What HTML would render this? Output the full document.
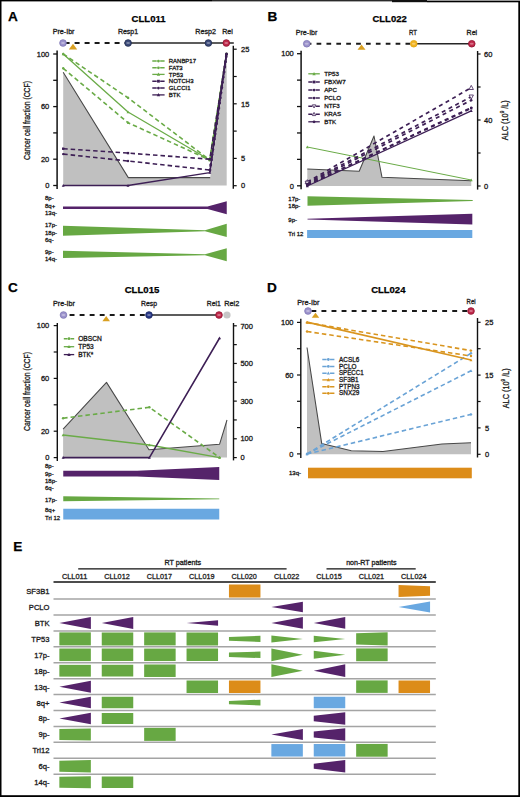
<!DOCTYPE html>
<html><head><meta charset="utf-8"><style>
html,body{margin:0;padding:0;background:#fff;}
body{width:520px;height:797px;overflow:hidden;position:relative;}
svg{position:absolute;left:0;top:0;}
text{font-family:"Liberation Sans",sans-serif;}
</style></head><body>
<svg width="520" height="797" viewBox="0 0 520 797" font-family="Liberation Sans, sans-serif">
<rect x="0" y="0" width="520" height="797" fill="#fff"/>
<text x="8" y="20.6" font-size="13.6" text-anchor="start" font-weight="bold" fill="#000" stroke="#000" stroke-width="0.25" >A</text>
<text x="148.6" y="22" font-size="9.4" text-anchor="middle" font-weight="bold" textLength="34" lengthAdjust="spacingAndGlyphs" fill="#000" stroke="#000" stroke-width="0.25" >CLL011</text>
<text x="63.6" y="34.1" font-size="7.1" text-anchor="middle" textLength="21.8" lengthAdjust="spacingAndGlyphs" fill="#1a1a1a" stroke="#1a1a1a" stroke-width="0.3" >Pre-Ibr</text>
<text x="128" y="34.1" font-size="7.1" text-anchor="middle" textLength="20.2" lengthAdjust="spacingAndGlyphs" fill="#1a1a1a" stroke="#1a1a1a" stroke-width="0.3" >Resp1</text>
<text x="205.6" y="34.1" font-size="7.1" text-anchor="middle" textLength="20.7" lengthAdjust="spacingAndGlyphs" fill="#1a1a1a" stroke="#1a1a1a" stroke-width="0.3" >Resp2</text>
<text x="227.5" y="34.1" font-size="7.1" text-anchor="middle" textLength="10.6" lengthAdjust="spacingAndGlyphs" fill="#1a1a1a" stroke="#1a1a1a" stroke-width="0.3" >Rel</text>
<line x1="64.6" y1="43" x2="125" y2="43" stroke="#1a1a1a" stroke-width="1.8" stroke-dasharray="5 5" />
<line x1="128" y1="43" x2="233.8" y2="43" stroke="#262626" stroke-width="1.4" />
<circle cx="63" cy="43" r="3.35" fill="#9c93cc" stroke="#7f77b5" stroke-width="0.8"/>
<ellipse cx="63" cy="43" rx="1.9" ry="1.1" fill="#fff" opacity="0.35"/>
<circle cx="128.1" cy="43" r="3.35" fill="#3b4a7a" stroke="#1f2b4d" stroke-width="0.8"/>
<ellipse cx="128.1" cy="43" rx="1.9" ry="1.1" fill="#fff" opacity="0.35"/>
<circle cx="208.4" cy="43" r="3.35" fill="#3b4a7a" stroke="#1f2b4d" stroke-width="0.8"/>
<ellipse cx="208.4" cy="43" rx="1.9" ry="1.1" fill="#fff" opacity="0.35"/>
<circle cx="226.3" cy="43" r="3.35" fill="#c0284a" stroke="#8e1430" stroke-width="0.8"/>
<ellipse cx="226.3" cy="43" rx="1.9" ry="1.1" fill="#fff" opacity="0.35"/>
<polygon points="73,43.7 68.8,49.5 77.2,49.5" fill="#d9a021" stroke="none" stroke-width="1" stroke-linejoin="round" />
<line x1="57.1" y1="50.5" x2="57.1" y2="189" stroke="#111" stroke-width="1.5" />
<line x1="53.2" y1="54.0" x2="57.1" y2="54.0" stroke="#111" stroke-width="1.3" />
<line x1="53.2" y1="80.30000000000001" x2="57.1" y2="80.30000000000001" stroke="#111" stroke-width="1.3" />
<line x1="53.2" y1="106.60000000000001" x2="57.1" y2="106.60000000000001" stroke="#111" stroke-width="1.3" />
<line x1="53.2" y1="132.9" x2="57.1" y2="132.9" stroke="#111" stroke-width="1.3" />
<line x1="53.2" y1="159.2" x2="57.1" y2="159.2" stroke="#111" stroke-width="1.3" />
<line x1="53.2" y1="185.5" x2="57.1" y2="185.5" stroke="#111" stroke-width="1.3" />
<text x="49.3" y="56.7" font-size="7.5" text-anchor="end" fill="#1a1a1a" stroke="#1a1a1a" stroke-width="0.3" >100</text>
<text x="49.3" y="109.30000000000001" font-size="7.5" text-anchor="end" fill="#1a1a1a" stroke="#1a1a1a" stroke-width="0.3" >60</text>
<text x="49.3" y="161.89999999999998" font-size="7.5" text-anchor="end" fill="#1a1a1a" stroke="#1a1a1a" stroke-width="0.3" >20</text>
<text x="49.3" y="188.2" font-size="7.5" text-anchor="end" fill="#1a1a1a" stroke="#1a1a1a" stroke-width="0.3" >0</text>
<text x="0" y="0" font-size="8.8" text-anchor="middle" fill="#1a1a1a" stroke="#1a1a1a" stroke-width="0.3" textLength="79" lengthAdjust="spacingAndGlyphs" transform="translate(27.0,120.5) rotate(-90)" dominant-baseline="central">Cancer cell fraction (CCF)</text>
<line x1="233.3" y1="45.8" x2="233.3" y2="188.8" stroke="#111" stroke-width="1.4" />
<line x1="233.3" y1="49.2" x2="236.7" y2="49.2" stroke="#111" stroke-width="1.2" />
<line x1="233.3" y1="76.5" x2="236.7" y2="76.5" stroke="#111" stroke-width="1.2" />
<line x1="233.3" y1="103.80000000000001" x2="236.7" y2="103.80000000000001" stroke="#111" stroke-width="1.2" />
<line x1="233.3" y1="131.10000000000002" x2="236.7" y2="131.10000000000002" stroke="#111" stroke-width="1.2" />
<line x1="233.3" y1="158.4" x2="236.7" y2="158.4" stroke="#111" stroke-width="1.2" />
<line x1="233.3" y1="185.7" x2="236.7" y2="185.7" stroke="#111" stroke-width="1.2" />
<text x="241" y="51.900000000000006" font-size="7.5" text-anchor="start" fill="#1a1a1a" stroke="#1a1a1a" stroke-width="0.3" >25</text>
<text x="241" y="106.5" font-size="7.5" text-anchor="start" fill="#1a1a1a" stroke="#1a1a1a" stroke-width="0.3" >15</text>
<text x="241" y="161.1" font-size="7.5" text-anchor="start" fill="#1a1a1a" stroke="#1a1a1a" stroke-width="0.3" >5</text>
<text x="241" y="188.39999999999998" font-size="7.5" text-anchor="start" fill="#1a1a1a" stroke="#1a1a1a" stroke-width="0.3" >0</text>
<polygon points="63.2,185.5 63.2,72.3 128.3,177.6 210.2,177.6 226.7,58 226.7,185.5" fill="#c0c0c0" stroke="none" stroke-width="1" stroke-linejoin="round" />
<polyline points="63.2,72.3 128.3,177.6 210.2,177.6" fill="none" stroke="#484848" stroke-width="1.05" stroke-linejoin="round" />
<polyline points="63.2,54.0 128,97.8 209.8,160 226.5,54" fill="none" stroke="#6aab47" stroke-width="1.6" stroke-dasharray="4.5 3" stroke-linejoin="round" />
<circle cx="63.2" cy="54.0" r="1.2" fill="#6aab47" stroke="none" stroke-width="0.6"/>
<circle cx="128" cy="97.8" r="1.2" fill="#6aab47" stroke="none" stroke-width="0.6"/>
<circle cx="209.8" cy="160" r="1.2" fill="#6aab47" stroke="none" stroke-width="0.6"/>
<circle cx="226.5" cy="54" r="1.2" fill="#6aab47" stroke="none" stroke-width="0.6"/>
<polyline points="63.2,68.3 128,122.7 209.8,160 226.5,54" fill="none" stroke="#6aab47" stroke-width="1.6" stroke-dasharray="4.5 3" stroke-linejoin="round" />
<circle cx="63.2" cy="68.3" r="1.2" fill="#6aab47" stroke="none" stroke-width="0.6"/>
<circle cx="128" cy="122.7" r="1.2" fill="#6aab47" stroke="none" stroke-width="0.6"/>
<circle cx="209.8" cy="160" r="1.2" fill="#6aab47" stroke="none" stroke-width="0.6"/>
<circle cx="226.5" cy="54" r="1.2" fill="#6aab47" stroke="none" stroke-width="0.6"/>
<polyline points="63.2,54.0 128,112 209.8,160 226.5,54" fill="none" stroke="#6aab47" stroke-width="1.3" stroke-linejoin="round" />
<polygon points="63.2,52.44 61.760000000000005,55.2 64.64,55.2" fill="#6aab47" stroke="none" stroke-width="1" stroke-linejoin="round" />
<polygon points="128,110.44 126.56,113.2 129.44,113.2" fill="#6aab47" stroke="none" stroke-width="1" stroke-linejoin="round" />
<polygon points="209.8,158.44 208.36,161.2 211.24,161.2" fill="#6aab47" stroke="none" stroke-width="1" stroke-linejoin="round" />
<polygon points="226.5,52.44 225.06,55.2 227.94,55.2" fill="#6aab47" stroke="none" stroke-width="1" stroke-linejoin="round" />
<polyline points="63.2,148.7 128,153.1 209.8,159.2 226.5,54" fill="none" stroke="#3d1f55" stroke-width="1.6" stroke-dasharray="4.5 3" stroke-linejoin="round" />
<rect x="62.0" y="147.5" width="2.4" height="2.4" fill="#3d1f55"/>
<rect x="126.8" y="151.9" width="2.4" height="2.4" fill="#3d1f55"/>
<rect x="208.60000000000002" y="158.0" width="2.4" height="2.4" fill="#3d1f55"/>
<rect x="225.3" y="52.8" width="2.4" height="2.4" fill="#3d1f55"/>
<polyline points="63.2,154.1 128,161 209.8,170 226.5,54" fill="none" stroke="#3d1f55" stroke-width="1.6" stroke-dasharray="4.5 3" stroke-linejoin="round" />
<circle cx="63.2" cy="154.1" r="1.2" fill="#3d1f55" stroke="none" stroke-width="0.6"/>
<circle cx="128" cy="161" r="1.2" fill="#3d1f55" stroke="none" stroke-width="0.6"/>
<circle cx="209.8" cy="170" r="1.2" fill="#3d1f55" stroke="none" stroke-width="0.6"/>
<circle cx="226.5" cy="54" r="1.2" fill="#3d1f55" stroke="none" stroke-width="0.6"/>
<polyline points="63.2,185.5 128,185.5 209.8,172.6 226.5,54" fill="none" stroke="#3d1f55" stroke-width="1.3" stroke-linejoin="round" />
<polygon points="63.2,183.94 61.760000000000005,186.7 64.64,186.7" fill="#3d1f55" stroke="none" stroke-width="1" stroke-linejoin="round" />
<polygon points="128,183.94 126.56,186.7 129.44,186.7" fill="#3d1f55" stroke="none" stroke-width="1" stroke-linejoin="round" />
<polygon points="209.8,171.04 208.36,173.79999999999998 211.24,173.79999999999998" fill="#3d1f55" stroke="none" stroke-width="1" stroke-linejoin="round" />
<polygon points="226.5,52.44 225.06,55.2 227.94,55.2" fill="#3d1f55" stroke="none" stroke-width="1" stroke-linejoin="round" />
<line x1="210" y1="170" x2="226.5" y2="55" stroke="#3d1f55" stroke-width="2.8" stroke-dasharray="0.01 5.2" stroke-linecap="round"/>
<line x1="210" y1="172" x2="226.5" y2="54" stroke="#3d1f55" stroke-width="1.4" />
<line x1="152.3" y1="61.1" x2="164.6" y2="61.1" stroke="#6aab47" stroke-width="1.5" stroke-dasharray="4.43 3.44" />
<circle cx="158.45" cy="61.1" r="1.4" fill="#6aab47" stroke="none" stroke-width="0.6"/>
<text x="168.8" y="63.2" font-size="6" text-anchor="start" textLength="27.2" lengthAdjust="spacingAndGlyphs" fill="#1a1a1a" stroke="#1a1a1a" stroke-width="0.3" >RANBP17</text>
<line x1="152.3" y1="67.8" x2="164.6" y2="67.8" stroke="#6aab47" stroke-width="1.5" stroke-dasharray="4.43 3.44" />
<circle cx="158.45" cy="67.8" r="1.4" fill="#6aab47" stroke="none" stroke-width="0.6"/>
<text x="168.8" y="69.89999999999999" font-size="6" text-anchor="start" fill="#1a1a1a" stroke="#1a1a1a" stroke-width="0.3" >FAT3</text>
<line x1="152.3" y1="74.4" x2="164.6" y2="74.4" stroke="#6aab47" stroke-width="1.3" />
<polygon points="158.45,72.58000000000001 156.76999999999998,75.80000000000001 160.13,75.80000000000001" fill="#6aab47" stroke="none" stroke-width="1" stroke-linejoin="round" />
<text x="168.8" y="76.5" font-size="6" text-anchor="start" fill="#1a1a1a" stroke="#1a1a1a" stroke-width="0.3" >TP53</text>
<line x1="152.3" y1="81.2" x2="164.6" y2="81.2" stroke="#3d1f55" stroke-width="1.5" stroke-dasharray="4.43 3.44" />
<rect x="157.04999999999998" y="79.8" width="2.8" height="2.8" fill="#3d1f55"/>
<text x="168.8" y="83.3" font-size="6" text-anchor="start" fill="#1a1a1a" stroke="#1a1a1a" stroke-width="0.3" >NOTCH3</text>
<line x1="152.3" y1="88.1" x2="164.6" y2="88.1" stroke="#3d1f55" stroke-width="1.5" stroke-dasharray="4.43 3.44" />
<circle cx="158.45" cy="88.1" r="1.4" fill="#3d1f55" stroke="none" stroke-width="0.6"/>
<text x="168.8" y="90.19999999999999" font-size="6" text-anchor="start" fill="#1a1a1a" stroke="#1a1a1a" stroke-width="0.3" >GLCCI1</text>
<line x1="152.3" y1="94.9" x2="164.6" y2="94.9" stroke="#3d1f55" stroke-width="1.3" />
<polygon points="158.45,93.08000000000001 156.76999999999998,96.30000000000001 160.13,96.30000000000001" fill="#3d1f55" stroke="none" stroke-width="1" stroke-linejoin="round" />
<text x="168.8" y="97.0" font-size="6" text-anchor="start" fill="#1a1a1a" stroke="#1a1a1a" stroke-width="0.3" >BTK</text>
<text x="45" y="200.1" font-size="6" text-anchor="start" fill="#1a1a1a" stroke="#1a1a1a" stroke-width="0.3" >8p-</text>
<text x="45" y="207.6" font-size="6" text-anchor="start" fill="#1a1a1a" stroke="#1a1a1a" stroke-width="0.3" >8q+</text>
<text x="45" y="215.1" font-size="6" text-anchor="start" fill="#1a1a1a" stroke="#1a1a1a" stroke-width="0.3" >13q-</text>
<text x="45" y="227.1" font-size="6" text-anchor="start" fill="#1a1a1a" stroke="#1a1a1a" stroke-width="0.3" >17p-</text>
<text x="45" y="234.6" font-size="6" text-anchor="start" fill="#1a1a1a" stroke="#1a1a1a" stroke-width="0.3" >18p-</text>
<text x="45" y="242.1" font-size="6" text-anchor="start" fill="#1a1a1a" stroke="#1a1a1a" stroke-width="0.3" >6q-</text>
<text x="45" y="253.9" font-size="6" text-anchor="start" fill="#1a1a1a" stroke="#1a1a1a" stroke-width="0.3" >9p-</text>
<text x="45" y="260.90000000000003" font-size="6" text-anchor="start" fill="#1a1a1a" stroke="#1a1a1a" stroke-width="0.3" >14q-</text>
<polygon points="63,206.6 207.5,206.6 226.75,201.3 226.75,214.3 207.5,209.0 63,209.0" fill="#55236a" stroke="none" stroke-width="1" stroke-linejoin="round" />
<polygon points="63,225.8 205,230.3 226.75,223.75 226.75,237 205,231.3 63,235.8" fill="#67a843" stroke="none" stroke-width="1" stroke-linejoin="round" />
<polygon points="63,250.8 205,254.3 226.75,248.25 226.75,261.25 205,255.3 63,258" fill="#67a843" stroke="none" stroke-width="1" stroke-linejoin="round" />
<text x="267.4" y="21.4" font-size="13.6" text-anchor="start" font-weight="bold" fill="#000" stroke="#000" stroke-width="0.25" >B</text>
<text x="389.6" y="22.3" font-size="9.4" text-anchor="middle" font-weight="bold" textLength="34.2" lengthAdjust="spacingAndGlyphs" fill="#000" stroke="#000" stroke-width="0.25" >CLL022</text>
<text x="306.6" y="35.2" font-size="7.1" text-anchor="middle" textLength="21.6" lengthAdjust="spacingAndGlyphs" fill="#1a1a1a" stroke="#1a1a1a" stroke-width="0.3" >Pre-Ibr</text>
<text x="413" y="35.2" font-size="7.1" text-anchor="middle" textLength="8" lengthAdjust="spacingAndGlyphs" fill="#1a1a1a" stroke="#1a1a1a" stroke-width="0.3" >RT</text>
<text x="471.9" y="35.2" font-size="7.1" text-anchor="middle" textLength="10.6" lengthAdjust="spacingAndGlyphs" fill="#1a1a1a" stroke="#1a1a1a" stroke-width="0.3" >Rel</text>
<line x1="306.7" y1="43.75" x2="411" y2="43.75" stroke="#1a1a1a" stroke-width="1.8" stroke-dasharray="4.7 5.18" />
<line x1="413.75" y1="43.75" x2="471.75" y2="43.75" stroke="#262626" stroke-width="1.4" />
<circle cx="306.75" cy="43.75" r="3.35" fill="#9c93cc" stroke="#7f77b5" stroke-width="0.8"/>
<ellipse cx="306.75" cy="43.75" rx="1.9" ry="1.1" fill="#fff" opacity="0.35"/>
<circle cx="413.75" cy="43.75" r="3.35" fill="#f1b320" stroke="#e2a816" stroke-width="0.8"/>
<ellipse cx="413.75" cy="43.75" rx="1.9" ry="1.1" fill="#fff" opacity="0.35"/>
<circle cx="471.75" cy="43.75" r="3.35" fill="#c0284a" stroke="#8e1430" stroke-width="0.8"/>
<ellipse cx="471.75" cy="43.75" rx="1.9" ry="1.1" fill="#fff" opacity="0.35"/>
<polygon points="361.5,44.5 357.5,49.7 365.5,49.7" fill="#d9a021" stroke="none" stroke-width="1" stroke-linejoin="round" />
<line x1="301.1" y1="50.8" x2="301.1" y2="189.2" stroke="#111" stroke-width="1.5" />
<line x1="297" y1="53.70000000000002" x2="301.1" y2="53.70000000000002" stroke="#111" stroke-width="1.3" />
<line x1="297" y1="80.12000000000002" x2="301.1" y2="80.12000000000002" stroke="#111" stroke-width="1.3" />
<line x1="297" y1="106.54000000000002" x2="301.1" y2="106.54000000000002" stroke="#111" stroke-width="1.3" />
<line x1="297" y1="132.96" x2="301.1" y2="132.96" stroke="#111" stroke-width="1.3" />
<line x1="297" y1="159.38000000000002" x2="301.1" y2="159.38000000000002" stroke="#111" stroke-width="1.3" />
<line x1="297" y1="185.8" x2="301.1" y2="185.8" stroke="#111" stroke-width="1.3" />
<text x="293.8" y="56.40000000000002" font-size="7.5" text-anchor="end" fill="#1a1a1a" stroke="#1a1a1a" stroke-width="0.3" >100</text>
<text x="293.8" y="188.5" font-size="7.5" text-anchor="end" fill="#1a1a1a" stroke="#1a1a1a" stroke-width="0.3" >0</text>
<line x1="477.6" y1="51" x2="477.6" y2="189.6" stroke="#111" stroke-width="1.4" />
<line x1="477.6" y1="54" x2="480.6" y2="54" stroke="#111" stroke-width="1.2" />
<line x1="477.6" y1="87" x2="480.6" y2="87" stroke="#111" stroke-width="1.2" />
<line x1="477.6" y1="120" x2="480.6" y2="120" stroke="#111" stroke-width="1.2" />
<line x1="477.6" y1="153" x2="480.6" y2="153" stroke="#111" stroke-width="1.2" />
<line x1="477.6" y1="186" x2="480.6" y2="186" stroke="#111" stroke-width="1.2" />
<text x="484" y="56.7" font-size="7.5" text-anchor="start" fill="#1a1a1a" stroke="#1a1a1a" stroke-width="0.3" >60</text>
<text x="484" y="122.60000000000001" font-size="7.5" text-anchor="start" fill="#1a1a1a" stroke="#1a1a1a" stroke-width="0.3" >40</text>
<text x="484" y="188.7" font-size="7.5" text-anchor="start" fill="#1a1a1a" stroke="#1a1a1a" stroke-width="0.3" >0</text>
<text x="0" y="0" font-size="8.8" text-anchor="middle" fill="#1a1a1a" stroke="#1a1a1a" stroke-width="0.3" textLength="40" lengthAdjust="spacingAndGlyphs" transform="translate(505.2,120.2) rotate(-90)" dominant-baseline="central">ALC (10<tspan font-size="5.5" dy="-3">9</tspan><tspan dy="3"> /L)</tspan></text>
<polygon points="307.3,186 307.3,169 359.2,171.2 374,136 382,177.3 471.25,180.75 471.25,186" fill="#c0c0c0" stroke="none" stroke-width="1" stroke-linejoin="round" />
<polyline points="307.3,169 359.2,171.2 374,136 382,177.3 471.25,180.75" fill="none" stroke="#484848" stroke-width="1.05" stroke-linejoin="round" />
<polyline points="307.3,147 471.25,180" fill="none" stroke="#6aab47" stroke-width="1.0" stroke-linejoin="round" />
<polygon points="307.3,145.44 305.86,148.2 308.74,148.2" fill="#6aab47" stroke="none" stroke-width="1" stroke-linejoin="round" />
<polygon points="471.25,178.44 469.81,181.2 472.69,181.2" fill="#6aab47" stroke="none" stroke-width="1" stroke-linejoin="round" />
<polyline points="307.3,182 471.25,87.7" fill="none" stroke="#3d1f55" stroke-width="1.7" stroke-dasharray="4 3.6" stroke-linejoin="round" />
<polygon points="307.3,179.66 305.14,183.8 309.46000000000004,183.8" fill="#fff" stroke="#3d1f55" stroke-width="0.8" stroke-linejoin="round" />
<polygon points="471.25,85.36 469.09,89.5 473.41,89.5" fill="#fff" stroke="#3d1f55" stroke-width="0.8" stroke-linejoin="round" />
<polyline points="307.3,183 471.25,96.8" fill="none" stroke="#3d1f55" stroke-width="1.7" stroke-dasharray="4 3.6" stroke-linejoin="round" />
<polygon points="307.3,185.34 305.14,181.2 309.46000000000004,181.2" fill="#fff" stroke="#3d1f55" stroke-width="0.8" stroke-linejoin="round" />
<polygon points="471.25,99.14 469.09,95.0 473.41,95.0" fill="#fff" stroke="#3d1f55" stroke-width="0.8" stroke-linejoin="round" />
<polyline points="307.3,184 471.25,100.2" fill="none" stroke="#3d1f55" stroke-width="1.7" stroke-dasharray="4 3.6" stroke-linejoin="round" />
<circle cx="307.3" cy="184" r="1.2" fill="#3d1f55" stroke="none" stroke-width="0.6"/>
<circle cx="471.25" cy="100.2" r="1.2" fill="#3d1f55" stroke="none" stroke-width="0.6"/>
<polyline points="307.3,185 471.25,107.6" fill="none" stroke="#3d1f55" stroke-width="1.7" stroke-dasharray="4 3.6" stroke-linejoin="round" />
<circle cx="307.3" cy="185" r="1.2" fill="#3d1f55" stroke="none" stroke-width="0.6"/>
<circle cx="471.25" cy="107.6" r="1.2" fill="#3d1f55" stroke="none" stroke-width="0.6"/>
<polyline points="307.3,185.3 471.25,108.2" fill="none" stroke="#3d1f55" stroke-width="1.7" stroke-dasharray="4 3.6" stroke-linejoin="round" />
<rect x="306.1" y="184.10000000000002" width="2.4" height="2.4" fill="#3d1f55"/>
<rect x="470.05" y="107.0" width="2.4" height="2.4" fill="#3d1f55"/>
<polyline points="307.3,186 471.25,110.8" fill="none" stroke="#3d1f55" stroke-width="1.3" stroke-linejoin="round" />
<polygon points="307.3,184.44 305.86,187.2 308.74,187.2" fill="#3d1f55" stroke="none" stroke-width="1" stroke-linejoin="round" />
<polygon points="471.25,109.24 469.81,112.0 472.69,112.0" fill="#3d1f55" stroke="none" stroke-width="1" stroke-linejoin="round" />
<line x1="308.3" y1="73.8" x2="319.8" y2="73.8" stroke="#6aab47" stroke-width="1.3" />
<polygon points="314.05,71.98 312.37,75.2 315.73,75.2" fill="#6aab47" stroke="none" stroke-width="1" stroke-linejoin="round" />
<text x="324.2" y="75.89999999999999" font-size="6.2" text-anchor="start" fill="#1a1a1a" stroke="#1a1a1a" stroke-width="0.3" >TP53</text>
<line x1="308.3" y1="82" x2="319.8" y2="82" stroke="#3d1f55" stroke-width="1.5" stroke-dasharray="4.14 3.22" />
<rect x="312.65000000000003" y="80.6" width="2.8" height="2.8" fill="#3d1f55"/>
<text x="324.2" y="84.1" font-size="6.2" text-anchor="start" textLength="21.6" lengthAdjust="spacingAndGlyphs" fill="#1a1a1a" stroke="#1a1a1a" stroke-width="0.3" >FBXW7</text>
<line x1="308.3" y1="90.1" x2="319.8" y2="90.1" stroke="#3d1f55" stroke-width="1.5" stroke-dasharray="4.14 3.22" />
<circle cx="314.05" cy="90.1" r="1.4" fill="#3d1f55" stroke="none" stroke-width="0.6"/>
<text x="324.2" y="92.19999999999999" font-size="6.2" text-anchor="start" fill="#1a1a1a" stroke="#1a1a1a" stroke-width="0.3" >APC</text>
<line x1="308.3" y1="98.1" x2="319.8" y2="98.1" stroke="#3d1f55" stroke-width="1.5" stroke-dasharray="4.14 3.22" />
<circle cx="314.05" cy="98.1" r="1.4" fill="#3d1f55" stroke="none" stroke-width="0.6"/>
<text x="324.2" y="100.19999999999999" font-size="6.2" text-anchor="start" fill="#1a1a1a" stroke="#1a1a1a" stroke-width="0.3" >PCLO</text>
<line x1="308.3" y1="106.2" x2="319.8" y2="106.2" stroke="#3d1f55" stroke-width="1.5" stroke-dasharray="4.14 3.22" />
<polygon points="314.05,108.02 312.37,104.8 315.73,104.8" fill="#fff" stroke="#3d1f55" stroke-width="0.8" stroke-linejoin="round" />
<text x="324.2" y="108.3" font-size="6.2" text-anchor="start" fill="#1a1a1a" stroke="#1a1a1a" stroke-width="0.3" >NTF3</text>
<line x1="308.3" y1="114.2" x2="319.8" y2="114.2" stroke="#3d1f55" stroke-width="1.5" stroke-dasharray="4.14 3.22" />
<polygon points="314.05,112.38000000000001 312.37,115.60000000000001 315.73,115.60000000000001" fill="#fff" stroke="#3d1f55" stroke-width="0.8" stroke-linejoin="round" />
<text x="324.2" y="116.3" font-size="6.2" text-anchor="start" fill="#1a1a1a" stroke="#1a1a1a" stroke-width="0.3" >KRAS</text>
<line x1="308.3" y1="121.8" x2="319.8" y2="121.8" stroke="#3d1f55" stroke-width="1.3" />
<circle cx="314.05" cy="121.8" r="1.4" fill="#3d1f55" stroke="none" stroke-width="0.6"/>
<text x="324.2" y="123.89999999999999" font-size="6.2" text-anchor="start" fill="#1a1a1a" stroke="#1a1a1a" stroke-width="0.3" >BTK</text>
<text x="288.3" y="200.79999999999998" font-size="6" text-anchor="start" fill="#1a1a1a" stroke="#1a1a1a" stroke-width="0.3" >17p-</text>
<text x="288.3" y="207.9" font-size="6" text-anchor="start" fill="#1a1a1a" stroke="#1a1a1a" stroke-width="0.3" >18p-</text>
<text x="288.3" y="221.9" font-size="6" text-anchor="start" fill="#1a1a1a" stroke="#1a1a1a" stroke-width="0.3" >9p-</text>
<text x="288.3" y="236.29999999999998" font-size="6" text-anchor="start" fill="#1a1a1a" stroke="#1a1a1a" stroke-width="0.3" >Tri 12</text>
<polygon points="307.5,196.2 472.7,199.9 472.7,200.9 307.5,205.8" fill="#67a843" stroke="none" stroke-width="1" stroke-linejoin="round" />
<polygon points="307.5,218.8 472.3,213.8 472.3,224.4 307.5,219.6" fill="#55236a" stroke="none" stroke-width="1" stroke-linejoin="round" />
<rect x="307.1" y="230" width="165.2" height="8" fill="#69a8e1"/>
<text x="8.1" y="292.1" font-size="13.6" text-anchor="start" font-weight="bold" fill="#000" stroke="#000" stroke-width="0.25" >C</text>
<text x="142" y="293.2" font-size="9.4" text-anchor="middle" font-weight="bold" textLength="34.6" lengthAdjust="spacingAndGlyphs" fill="#000" stroke="#000" stroke-width="0.25" >CLL015</text>
<text x="64" y="306" font-size="7.1" text-anchor="middle" textLength="21.8" lengthAdjust="spacingAndGlyphs" fill="#1a1a1a" stroke="#1a1a1a" stroke-width="0.3" >Pre-Ibr</text>
<text x="149.1" y="306" font-size="7.1" text-anchor="middle" textLength="16" lengthAdjust="spacingAndGlyphs" fill="#1a1a1a" stroke="#1a1a1a" stroke-width="0.3" >Resp</text>
<text x="213.8" y="306" font-size="7.1" text-anchor="middle" textLength="13.9" lengthAdjust="spacingAndGlyphs" fill="#1a1a1a" stroke="#1a1a1a" stroke-width="0.3" >Rel1</text>
<text x="231.7" y="306" font-size="7.1" text-anchor="middle" textLength="15" lengthAdjust="spacingAndGlyphs" fill="#1a1a1a" stroke="#1a1a1a" stroke-width="0.3" >Rel2</text>
<line x1="69.6" y1="315" x2="146" y2="315" stroke="#1a1a1a" stroke-width="1.8" stroke-dasharray="4.9 5.14" />
<line x1="149" y1="315" x2="219" y2="315" stroke="#262626" stroke-width="1.4" />
<circle cx="63.5" cy="315" r="3.35" fill="#9c93cc" stroke="#7f77b5" stroke-width="0.8"/>
<ellipse cx="63.5" cy="315" rx="1.9" ry="1.1" fill="#fff" opacity="0.35"/>
<circle cx="149" cy="315" r="3.35" fill="#2a3a8a" stroke="#18235a" stroke-width="0.8"/>
<ellipse cx="149" cy="315" rx="1.9" ry="1.1" fill="#fff" opacity="0.35"/>
<circle cx="219" cy="315" r="3.35" fill="#c0284a" stroke="#8e1430" stroke-width="0.8"/>
<ellipse cx="219" cy="315" rx="1.9" ry="1.1" fill="#fff" opacity="0.35"/>
<circle cx="227" cy="315" r="3.6" fill="#c6c6c6" stroke="none" stroke-width="0.6"/>
<polygon points="106.2,316 102.4,321.2 110.0,321.2" fill="#d9a021" stroke="none" stroke-width="1" stroke-linejoin="round" />
<line x1="57.3" y1="323" x2="57.3" y2="461" stroke="#111" stroke-width="1.4" />
<line x1="53.7" y1="325.6" x2="57.3" y2="325.6" stroke="#111" stroke-width="1.2" />
<line x1="53.7" y1="352.0" x2="57.3" y2="352.0" stroke="#111" stroke-width="1.2" />
<line x1="53.7" y1="378.40000000000003" x2="57.3" y2="378.40000000000003" stroke="#111" stroke-width="1.2" />
<line x1="53.7" y1="404.8" x2="57.3" y2="404.8" stroke="#111" stroke-width="1.2" />
<line x1="53.7" y1="431.20000000000005" x2="57.3" y2="431.20000000000005" stroke="#111" stroke-width="1.2" />
<line x1="53.7" y1="457.6" x2="57.3" y2="457.6" stroke="#111" stroke-width="1.2" />
<text x="49.3" y="328.3" font-size="7.5" text-anchor="end" fill="#1a1a1a" stroke="#1a1a1a" stroke-width="0.3" >100</text>
<text x="49.3" y="381.1" font-size="7.5" text-anchor="end" fill="#1a1a1a" stroke="#1a1a1a" stroke-width="0.3" >60</text>
<text x="49.3" y="433.90000000000003" font-size="7.5" text-anchor="end" fill="#1a1a1a" stroke="#1a1a1a" stroke-width="0.3" >20</text>
<text x="49.3" y="460.3" font-size="7.5" text-anchor="end" fill="#1a1a1a" stroke="#1a1a1a" stroke-width="0.3" >0</text>
<text x="0" y="0" font-size="8.8" text-anchor="middle" fill="#1a1a1a" stroke="#1a1a1a" stroke-width="0.3" textLength="79" lengthAdjust="spacingAndGlyphs" transform="translate(27.0,391.5) rotate(-90)" dominant-baseline="central">Cancer cell fraction (CCF)</text>
<line x1="233.5" y1="323" x2="233.5" y2="460.4" stroke="#111" stroke-width="1.4" />
<line x1="233.5" y1="457.6" x2="236.8" y2="457.6" stroke="#111" stroke-width="1.2" />
<line x1="233.5" y1="438.7714285714286" x2="236.8" y2="438.7714285714286" stroke="#111" stroke-width="1.2" />
<line x1="233.5" y1="419.9428571428572" x2="236.8" y2="419.9428571428572" stroke="#111" stroke-width="1.2" />
<line x1="233.5" y1="401.11428571428576" x2="236.8" y2="401.11428571428576" stroke="#111" stroke-width="1.2" />
<line x1="233.5" y1="382.28571428571433" x2="236.8" y2="382.28571428571433" stroke="#111" stroke-width="1.2" />
<line x1="233.5" y1="363.4571428571429" x2="236.8" y2="363.4571428571429" stroke="#111" stroke-width="1.2" />
<line x1="233.5" y1="344.62857142857143" x2="236.8" y2="344.62857142857143" stroke="#111" stroke-width="1.2" />
<line x1="233.5" y1="325.8" x2="236.8" y2="325.8" stroke="#111" stroke-width="1.2" />
<text x="240.4" y="328.5" font-size="7.5" text-anchor="start" fill="#1a1a1a" stroke="#1a1a1a" stroke-width="0.3" >700</text>
<text x="240.4" y="366.1571428571429" font-size="7.5" text-anchor="start" fill="#1a1a1a" stroke="#1a1a1a" stroke-width="0.3" >500</text>
<text x="240.4" y="403.81428571428575" font-size="7.5" text-anchor="start" fill="#1a1a1a" stroke="#1a1a1a" stroke-width="0.3" >300</text>
<text x="240.4" y="441.4714285714286" font-size="7.5" text-anchor="start" fill="#1a1a1a" stroke="#1a1a1a" stroke-width="0.3" >100</text>
<text x="240.4" y="460.3" font-size="7.5" text-anchor="start" fill="#1a1a1a" stroke="#1a1a1a" stroke-width="0.3" >0</text>
<polygon points="63.1,457.6 63.1,429.2 106.5,382.4 149,449.8 219.6,444.2 227,420 227,457.6" fill="#c0c0c0" stroke="none" stroke-width="1" stroke-linejoin="round" />
<polyline points="63.1,429.2 106.5,382.4 149,449.8 219.6,444.2 227,420" fill="none" stroke="#484848" stroke-width="1.05" stroke-linejoin="round" />
<polyline points="63.1,418.2 149.4,407.3 219.6,457.6" fill="none" stroke="#6aab47" stroke-width="1.6" stroke-dasharray="4.5 3" stroke-linejoin="round" />
<circle cx="63.1" cy="418.2" r="1.2" fill="#6aab47" stroke="none" stroke-width="0.6"/>
<circle cx="149.4" cy="407.3" r="1.2" fill="#6aab47" stroke="none" stroke-width="0.6"/>
<circle cx="219.6" cy="457.6" r="1.2" fill="#6aab47" stroke="none" stroke-width="0.6"/>
<polyline points="63.1,435 149.4,445 219.6,457.6" fill="none" stroke="#6aab47" stroke-width="1.3" stroke-linejoin="round" />
<polygon points="63.1,433.44 61.660000000000004,436.2 64.54,436.2" fill="#6aab47" stroke="none" stroke-width="1" stroke-linejoin="round" />
<polygon points="149.4,443.44 147.96,446.2 150.84,446.2" fill="#6aab47" stroke="none" stroke-width="1" stroke-linejoin="round" />
<polygon points="219.6,456.04 218.16,458.8 221.04,458.8" fill="#6aab47" stroke="none" stroke-width="1" stroke-linejoin="round" />
<polyline points="63.1,457.6 149.4,457.6 219.6,338" fill="none" stroke="#3d1f55" stroke-width="1.55" stroke-linejoin="round" />
<polygon points="63.1,456.04 61.660000000000004,458.8 64.54,458.8" fill="#3d1f55" stroke="none" stroke-width="1" stroke-linejoin="round" />
<polygon points="149.4,456.04 147.96,458.8 150.84,458.8" fill="#3d1f55" stroke="none" stroke-width="1" stroke-linejoin="round" />
<polygon points="219.6,336.44 218.16,339.2 221.04,339.2" fill="#3d1f55" stroke="none" stroke-width="1" stroke-linejoin="round" />
<line x1="63.8" y1="338.7" x2="74.2" y2="338.7" stroke="#6aab47" stroke-width="1.5" stroke-dasharray="3.74 2.91" />
<circle cx="69.0" cy="338.7" r="1.4" fill="#6aab47" stroke="none" stroke-width="0.6"/>
<text x="78.2" y="340.8" font-size="6.5" text-anchor="start" textLength="23.6" lengthAdjust="spacingAndGlyphs" fill="#1a1a1a" stroke="#1a1a1a" stroke-width="0.3" >OBSCN</text>
<line x1="63.8" y1="346.7" x2="74.2" y2="346.7" stroke="#6aab47" stroke-width="1.3" />
<polygon points="69.0,344.88 67.32,348.09999999999997 70.68,348.09999999999997" fill="#6aab47" stroke="none" stroke-width="1" stroke-linejoin="round" />
<text x="78.2" y="348.8" font-size="6.5" text-anchor="start" fill="#1a1a1a" stroke="#1a1a1a" stroke-width="0.3" >TP53</text>
<line x1="63.8" y1="354.6" x2="74.2" y2="354.6" stroke="#3d1f55" stroke-width="1.3" />
<polygon points="69.0,352.78000000000003 67.32,356.0 70.68,356.0" fill="#3d1f55" stroke="none" stroke-width="1" stroke-linejoin="round" />
<text x="78.2" y="356.70000000000005" font-size="6.5" text-anchor="start" fill="#1a1a1a" stroke="#1a1a1a" stroke-width="0.3" >BTK*</text>
<text x="45" y="468.35" font-size="6" text-anchor="start" fill="#1a1a1a" stroke="#1a1a1a" stroke-width="0.3" >8p-</text>
<text x="45" y="475.85" font-size="6" text-anchor="start" fill="#1a1a1a" stroke="#1a1a1a" stroke-width="0.3" >9p-</text>
<text x="45" y="482.85" font-size="6" text-anchor="start" fill="#1a1a1a" stroke="#1a1a1a" stroke-width="0.3" >18p-</text>
<text x="45" y="490.35" font-size="6" text-anchor="start" fill="#1a1a1a" stroke="#1a1a1a" stroke-width="0.3" >6q-</text>
<text x="45" y="502.1" font-size="6" text-anchor="start" fill="#1a1a1a" stroke="#1a1a1a" stroke-width="0.3" >17p-</text>
<text x="45" y="512.1" font-size="6" text-anchor="start" fill="#1a1a1a" stroke="#1a1a1a" stroke-width="0.3" >8q+</text>
<text x="45" y="519.6" font-size="6" text-anchor="start" fill="#1a1a1a" stroke="#1a1a1a" stroke-width="0.3" >Tri 12</text>
<polygon points="63.25,470.8 137,470.8 219.25,467 219.25,480 137,476.6 63.25,476.6" fill="#55236a" stroke="none" stroke-width="1" stroke-linejoin="round" />
<polygon points="63.25,496.25 219.25,498.4 219.25,499.3 63.25,501.25" fill="#67a843" stroke="none" stroke-width="1" stroke-linejoin="round" />
<rect x="63.25" y="508.75" width="156" height="10.75" fill="#69a8e1"/>
<text x="267" y="292" font-size="13.6" text-anchor="start" font-weight="bold" fill="#000" stroke="#000" stroke-width="0.25" >D</text>
<text x="388.3" y="293.2" font-size="9.4" text-anchor="middle" font-weight="bold" textLength="34.3" lengthAdjust="spacingAndGlyphs" fill="#000" stroke="#000" stroke-width="0.25" >CLL024</text>
<text x="308.3" y="304.8" font-size="7.1" text-anchor="middle" textLength="22" lengthAdjust="spacingAndGlyphs" fill="#1a1a1a" stroke="#1a1a1a" stroke-width="0.3" >Pre-Ibr</text>
<text x="471.1" y="304.4" font-size="7.1" text-anchor="middle" textLength="9" lengthAdjust="spacingAndGlyphs" fill="#1a1a1a" stroke="#1a1a1a" stroke-width="0.3" >Rel</text>
<line x1="311.4" y1="311" x2="468" y2="311" stroke="#1a1a1a" stroke-width="1.8" stroke-dasharray="4.9 5.16" />
<circle cx="308" cy="311" r="3.35" fill="#9c93cc" stroke="#7f77b5" stroke-width="0.8"/>
<ellipse cx="308" cy="311" rx="1.9" ry="1.1" fill="#fff" opacity="0.35"/>
<circle cx="471" cy="311" r="3.35" fill="#c0284a" stroke="#8e1430" stroke-width="0.8"/>
<ellipse cx="471" cy="311" rx="1.9" ry="1.1" fill="#fff" opacity="0.35"/>
<polygon points="315.5,312.8 311.75,317.8 319.25,317.8" fill="#d9a021" stroke="none" stroke-width="1" stroke-linejoin="round" />
<line x1="300.8" y1="318.8" x2="300.8" y2="458" stroke="#111" stroke-width="1.4" />
<line x1="297" y1="322.4" x2="300.8" y2="322.4" stroke="#111" stroke-width="1.2" />
<line x1="297" y1="348.7" x2="300.8" y2="348.7" stroke="#111" stroke-width="1.2" />
<line x1="297" y1="375.0" x2="300.8" y2="375.0" stroke="#111" stroke-width="1.2" />
<line x1="297" y1="401.29999999999995" x2="300.8" y2="401.29999999999995" stroke="#111" stroke-width="1.2" />
<line x1="297" y1="427.59999999999997" x2="300.8" y2="427.59999999999997" stroke="#111" stroke-width="1.2" />
<line x1="297" y1="453.9" x2="300.8" y2="453.9" stroke="#111" stroke-width="1.2" />
<text x="293.5" y="325.09999999999997" font-size="7.5" text-anchor="end" fill="#1a1a1a" stroke="#1a1a1a" stroke-width="0.3" >100</text>
<text x="293.5" y="377.7" font-size="7.5" text-anchor="end" fill="#1a1a1a" stroke="#1a1a1a" stroke-width="0.3" >60</text>
<text x="293.5" y="456.59999999999997" font-size="7.5" text-anchor="end" fill="#1a1a1a" stroke="#1a1a1a" stroke-width="0.3" >0</text>
<line x1="477.5" y1="318" x2="477.5" y2="457.5" stroke="#111" stroke-width="1.4" />
<line x1="477.5" y1="454.3" x2="480.6" y2="454.3" stroke="#111" stroke-width="1.2" />
<line x1="477.5" y1="427.90000000000003" x2="480.6" y2="427.90000000000003" stroke="#111" stroke-width="1.2" />
<line x1="477.5" y1="401.5" x2="480.6" y2="401.5" stroke="#111" stroke-width="1.2" />
<line x1="477.5" y1="375.1" x2="480.6" y2="375.1" stroke="#111" stroke-width="1.2" />
<line x1="477.5" y1="348.70000000000005" x2="480.6" y2="348.70000000000005" stroke="#111" stroke-width="1.2" />
<line x1="477.5" y1="322.3" x2="480.6" y2="322.3" stroke="#111" stroke-width="1.2" />
<text x="485" y="325.0" font-size="7.5" text-anchor="start" fill="#1a1a1a" stroke="#1a1a1a" stroke-width="0.3" >25</text>
<text x="485" y="377.8" font-size="7.5" text-anchor="start" fill="#1a1a1a" stroke="#1a1a1a" stroke-width="0.3" >15</text>
<text x="485" y="430.6" font-size="7.5" text-anchor="start" fill="#1a1a1a" stroke="#1a1a1a" stroke-width="0.3" >5</text>
<text x="485" y="457.0" font-size="7.5" text-anchor="start" fill="#1a1a1a" stroke="#1a1a1a" stroke-width="0.3" >0</text>
<text x="0" y="0" font-size="8.8" text-anchor="middle" fill="#1a1a1a" stroke="#1a1a1a" stroke-width="0.3" textLength="40" lengthAdjust="spacingAndGlyphs" transform="translate(506,388.3) rotate(-90)" dominant-baseline="central">ALC (10<tspan font-size="5.5" dy="-3">9</tspan><tspan dy="3"> /L)</tspan></text>
<polygon points="307,454.3 307,347.5 321.7,443.4 351.3,450.8 383,451.4 442,444 471,442.7 471,454.3" fill="#c0c0c0" stroke="none" stroke-width="1" stroke-linejoin="round" />
<polyline points="307,347.5 321.7,443.4 351.3,450.8 383,451.4 442,444 471,442.7" fill="none" stroke="#484848" stroke-width="1.05" stroke-linejoin="round" />
<polyline points="307,454 471,353.3" fill="none" stroke="#6aa3d6" stroke-width="1.6" stroke-dasharray="4.5 3" stroke-linejoin="round" />
<circle cx="307" cy="454" r="1.2" fill="#6aa3d6" stroke="none" stroke-width="0.6"/>
<circle cx="471" cy="353.3" r="1.2" fill="#6aa3d6" stroke="none" stroke-width="0.6"/>
<polyline points="307,454 471,370.8" fill="none" stroke="#6aa3d6" stroke-width="1.6" stroke-dasharray="4.5 3" stroke-linejoin="round" />
<polygon points="307,452.44 305.56,455.2 308.44,455.2" fill="#6aa3d6" stroke="none" stroke-width="1" stroke-linejoin="round" />
<polygon points="471,369.24 469.56,372.0 472.44,372.0" fill="#6aa3d6" stroke="none" stroke-width="1" stroke-linejoin="round" />
<polyline points="307,454 471,414.4" fill="none" stroke="#6aa3d6" stroke-width="1.6" stroke-dasharray="4.5 3" stroke-linejoin="round" />
<circle cx="307" cy="454" r="1.2" fill="#6aa3d6" stroke="none" stroke-width="0.6"/>
<circle cx="471" cy="414.4" r="1.2" fill="#6aa3d6" stroke="none" stroke-width="0.6"/>
<polyline points="307,322.6 471,350.6" fill="none" stroke="#d9951f" stroke-width="1.6" stroke-dasharray="4.5 3" stroke-linejoin="round" />
<circle cx="307" cy="322.6" r="1.2" fill="#d9951f" stroke="none" stroke-width="0.6"/>
<circle cx="471" cy="350.6" r="1.2" fill="#d9951f" stroke="none" stroke-width="0.6"/>
<polyline points="307,331.5 471,356" fill="none" stroke="#d9951f" stroke-width="1.6" stroke-dasharray="4.5 3" stroke-linejoin="round" />
<circle cx="307" cy="331.5" r="1.2" fill="#d9951f" stroke="none" stroke-width="0.6"/>
<circle cx="471" cy="356" r="1.2" fill="#d9951f" stroke="none" stroke-width="0.6"/>
<polyline points="307,322.2 471,360" fill="none" stroke="#d9951f" stroke-width="1.7" stroke-linejoin="round" />
<polygon points="307,320.64 305.56,323.4 308.44,323.4" fill="#d9951f" stroke="none" stroke-width="1" stroke-linejoin="round" />
<polygon points="471,358.44 469.56,361.2 472.44,361.2" fill="#d9951f" stroke="none" stroke-width="1" stroke-linejoin="round" />
<line x1="322.3" y1="359.5" x2="334.4" y2="359.5" stroke="#6aa3d6" stroke-width="1.5" stroke-dasharray="4.36 3.39" />
<circle cx="328.35" cy="359.5" r="1.4" fill="#6aa3d6" stroke="none" stroke-width="0.6"/>
<text x="339" y="361.6" font-size="6.4" text-anchor="start" fill="#1a1a1a" stroke="#1a1a1a" stroke-width="0.3" >ACSL6</text>
<line x1="322.3" y1="366.4" x2="334.4" y2="366.4" stroke="#6aa3d6" stroke-width="1.5" stroke-dasharray="4.36 3.39" />
<circle cx="328.35" cy="366.4" r="1.4" fill="#6aa3d6" stroke="none" stroke-width="0.6"/>
<text x="339" y="368.5" font-size="6.4" text-anchor="start" fill="#1a1a1a" stroke="#1a1a1a" stroke-width="0.3" >PCLO</text>
<line x1="322.3" y1="373.2" x2="334.4" y2="373.2" stroke="#6aa3d6" stroke-width="1.5" stroke-dasharray="4.36 3.39" />
<polygon points="328.35,371.38 326.67,374.59999999999997 330.03000000000003,374.59999999999997" fill="#6aa3d6" stroke="none" stroke-width="1" stroke-linejoin="round" />
<text x="339" y="375.3" font-size="6.4" text-anchor="start" textLength="24.7" lengthAdjust="spacingAndGlyphs" fill="#1a1a1a" stroke="#1a1a1a" stroke-width="0.3" >SPECC1</text>
<line x1="322.3" y1="379.9" x2="334.4" y2="379.9" stroke="#d9951f" stroke-width="1.3" />
<polygon points="328.35,378.08 326.67,381.29999999999995 330.03000000000003,381.29999999999995" fill="#d9951f" stroke="none" stroke-width="1" stroke-linejoin="round" />
<text x="339" y="382.0" font-size="6.4" text-anchor="start" fill="#1a1a1a" stroke="#1a1a1a" stroke-width="0.3" >SF3B1</text>
<line x1="322.3" y1="386.7" x2="334.4" y2="386.7" stroke="#d9951f" stroke-width="1.5" stroke-dasharray="4.36 3.39" />
<circle cx="328.35" cy="386.7" r="1.4" fill="#d9951f" stroke="none" stroke-width="0.6"/>
<text x="339" y="388.8" font-size="6.4" text-anchor="start" fill="#1a1a1a" stroke="#1a1a1a" stroke-width="0.3" >PTPN3</text>
<line x1="322.3" y1="393.3" x2="334.4" y2="393.3" stroke="#d9951f" stroke-width="1.5" stroke-dasharray="4.36 3.39" />
<circle cx="328.35" cy="393.3" r="1.4" fill="#d9951f" stroke="none" stroke-width="0.6"/>
<text x="339" y="395.40000000000003" font-size="6.4" text-anchor="start" fill="#1a1a1a" stroke="#1a1a1a" stroke-width="0.3" >SNX29</text>
<text x="289" y="475.3" font-size="6" text-anchor="start" fill="#1a1a1a" stroke="#1a1a1a" stroke-width="0.3" >13q-</text>
<rect x="308" y="467.7" width="163.8" height="10.6" fill="#dc8c19"/>
<text x="13.3" y="551.2" font-size="13.6" text-anchor="start" font-weight="bold" fill="#000" stroke="#000" stroke-width="0.25" >E</text>
<line x1="78.2" y1="568.8" x2="286.6" y2="568.8" stroke="#111" stroke-width="1.3" />
<line x1="326.5" y1="568.8" x2="415.7" y2="568.8" stroke="#111" stroke-width="1.3" />
<text x="182.8" y="565.3" font-size="7.2" text-anchor="middle" textLength="36.5" lengthAdjust="spacingAndGlyphs" fill="#1a1a1a" stroke="#1a1a1a" stroke-width="0.3" >RT patients</text>
<text x="371.3" y="565.0" font-size="7.2" text-anchor="middle" textLength="50.3" lengthAdjust="spacingAndGlyphs" fill="#1a1a1a" stroke="#1a1a1a" stroke-width="0.3" >non-RT patients</text>
<text x="74.6" y="578.6" font-size="7.9" text-anchor="middle" textLength="25.4" lengthAdjust="spacingAndGlyphs" fill="#1a1a1a" stroke="#1a1a1a" stroke-width="0.3" >CLL011</text>
<text x="117.0" y="578.6" font-size="7.9" text-anchor="middle" textLength="25.4" lengthAdjust="spacingAndGlyphs" fill="#1a1a1a" stroke="#1a1a1a" stroke-width="0.3" >CLL012</text>
<text x="159.39999999999998" y="578.6" font-size="7.9" text-anchor="middle" textLength="25.4" lengthAdjust="spacingAndGlyphs" fill="#1a1a1a" stroke="#1a1a1a" stroke-width="0.3" >CLL017</text>
<text x="201.79999999999998" y="578.6" font-size="7.9" text-anchor="middle" textLength="25.4" lengthAdjust="spacingAndGlyphs" fill="#1a1a1a" stroke="#1a1a1a" stroke-width="0.3" >CLL019</text>
<text x="244.2" y="578.6" font-size="7.9" text-anchor="middle" textLength="25.4" lengthAdjust="spacingAndGlyphs" fill="#1a1a1a" stroke="#1a1a1a" stroke-width="0.3" >CLL020</text>
<text x="286.6" y="578.6" font-size="7.9" text-anchor="middle" textLength="25.4" lengthAdjust="spacingAndGlyphs" fill="#1a1a1a" stroke="#1a1a1a" stroke-width="0.3" >CLL022</text>
<text x="329.0" y="578.6" font-size="7.9" text-anchor="middle" textLength="25.4" lengthAdjust="spacingAndGlyphs" fill="#1a1a1a" stroke="#1a1a1a" stroke-width="0.3" >CLL015</text>
<text x="371.4" y="578.6" font-size="7.9" text-anchor="middle" textLength="25.4" lengthAdjust="spacingAndGlyphs" fill="#1a1a1a" stroke="#1a1a1a" stroke-width="0.3" >CLL021</text>
<text x="413.79999999999995" y="578.6" font-size="7.9" text-anchor="middle" textLength="25.4" lengthAdjust="spacingAndGlyphs" fill="#1a1a1a" stroke="#1a1a1a" stroke-width="0.3" >CLL024</text>
<line x1="53.5" y1="582" x2="435.8" y2="582" stroke="#111" stroke-width="1.4" />
<line x1="53.5" y1="599.05" x2="435.8" y2="599.05" stroke="#a4a4a4" stroke-width="1.5" />
<line x1="53.5" y1="614.968" x2="435.8" y2="614.968" stroke="#a4a4a4" stroke-width="1.5" />
<line x1="53.5" y1="630.886" x2="435.8" y2="630.886" stroke="#a4a4a4" stroke-width="1.5" />
<line x1="53.5" y1="646.804" x2="435.8" y2="646.804" stroke="#a4a4a4" stroke-width="1.5" />
<line x1="53.5" y1="662.722" x2="435.8" y2="662.722" stroke="#a4a4a4" stroke-width="1.5" />
<line x1="53.5" y1="678.64" x2="435.8" y2="678.64" stroke="#a4a4a4" stroke-width="1.5" />
<line x1="53.5" y1="694.558" x2="435.8" y2="694.558" stroke="#a4a4a4" stroke-width="1.5" />
<line x1="53.5" y1="710.4759999999999" x2="435.8" y2="710.4759999999999" stroke="#a4a4a4" stroke-width="1.5" />
<line x1="53.5" y1="726.394" x2="435.8" y2="726.394" stroke="#a4a4a4" stroke-width="1.5" />
<line x1="53.5" y1="742.3119999999999" x2="435.8" y2="742.3119999999999" stroke="#a4a4a4" stroke-width="1.5" />
<line x1="53.5" y1="758.23" x2="435.8" y2="758.23" stroke="#a4a4a4" stroke-width="1.5" />
<line x1="53.5" y1="774.1479999999999" x2="435.8" y2="774.1479999999999" stroke="#a4a4a4" stroke-width="1.5" />
<text x="49.5" y="594.0" font-size="7.6" text-anchor="end" fill="#1a1a1a" stroke="#1a1a1a" stroke-width="0.3" >SF3B1</text>
<text x="49.5" y="610.05" font-size="7.6" text-anchor="end" fill="#1a1a1a" stroke="#1a1a1a" stroke-width="0.3" >PCLO</text>
<text x="49.5" y="625.968" font-size="7.6" text-anchor="end" fill="#1a1a1a" stroke="#1a1a1a" stroke-width="0.3" >BTK</text>
<text x="49.5" y="641.886" font-size="7.6" text-anchor="end" fill="#1a1a1a" stroke="#1a1a1a" stroke-width="0.3" >TP53</text>
<text x="49.5" y="657.804" font-size="7.6" text-anchor="end" fill="#1a1a1a" stroke="#1a1a1a" stroke-width="0.3" >17p-</text>
<text x="49.5" y="673.722" font-size="7.6" text-anchor="end" fill="#1a1a1a" stroke="#1a1a1a" stroke-width="0.3" >18p-</text>
<text x="49.5" y="689.64" font-size="7.6" text-anchor="end" fill="#1a1a1a" stroke="#1a1a1a" stroke-width="0.3" >13q-</text>
<text x="49.5" y="705.558" font-size="7.6" text-anchor="end" fill="#1a1a1a" stroke="#1a1a1a" stroke-width="0.3" >8q+</text>
<text x="49.5" y="721.4759999999999" font-size="7.6" text-anchor="end" fill="#1a1a1a" stroke="#1a1a1a" stroke-width="0.3" >8p-</text>
<text x="49.5" y="737.394" font-size="7.6" text-anchor="end" fill="#1a1a1a" stroke="#1a1a1a" stroke-width="0.3" >9p-</text>
<text x="49.5" y="753.3119999999999" font-size="7.6" text-anchor="end" fill="#1a1a1a" stroke="#1a1a1a" stroke-width="0.3" >Tri12</text>
<text x="49.5" y="769.23" font-size="7.6" text-anchor="end" fill="#1a1a1a" stroke="#1a1a1a" stroke-width="0.3" >6q-</text>
<text x="49.5" y="785.1479999999999" font-size="7.6" text-anchor="end" fill="#1a1a1a" stroke="#1a1a1a" stroke-width="0.3" >14q-</text>
<polygon points="59.349999999999994,622.968 90.85,616.968 90.85,628.968" fill="#55236a" stroke="none" stroke-width="1" stroke-linejoin="round" />
<polygon points="59.349999999999994,632.386 90.85,632.386 90.85,645.386 59.349999999999994,645.386" fill="#67a843" stroke="none" stroke-width="1" stroke-linejoin="round" />
<polygon points="59.349999999999994,648.504 90.85,648.504 90.85,661.1039999999999 59.349999999999994,661.1039999999999" fill="#67a843" stroke="none" stroke-width="1" stroke-linejoin="round" />
<polygon points="59.349999999999994,664.822 90.85,664.822 90.85,676.622 59.349999999999994,676.622" fill="#67a843" stroke="none" stroke-width="1" stroke-linejoin="round" />
<polygon points="59.349999999999994,686.64 90.85,680.64 90.85,692.64" fill="#55236a" stroke="none" stroke-width="1" stroke-linejoin="round" />
<polygon points="59.349999999999994,702.558 90.85,696.808 90.85,708.308" fill="#55236a" stroke="none" stroke-width="1" stroke-linejoin="round" />
<polygon points="59.349999999999994,718.4759999999999 90.85,712.7259999999999 90.85,724.2259999999999" fill="#55236a" stroke="none" stroke-width="1" stroke-linejoin="round" />
<polygon points="59.349999999999994,728.894 90.85,728.394 90.85,740.394 59.349999999999994,739.894" fill="#67a843" stroke="none" stroke-width="1" stroke-linejoin="round" />
<polygon points="59.349999999999994,760.73 90.85,759.98 90.85,772.48 59.349999999999994,771.73" fill="#67a843" stroke="none" stroke-width="1" stroke-linejoin="round" />
<polygon points="59.349999999999994,776.6479999999999 90.85,776.1479999999999 90.85,788.1479999999999 59.349999999999994,787.6479999999999" fill="#67a843" stroke="none" stroke-width="1" stroke-linejoin="round" />
<polygon points="101.75,622.968 133.25,616.968 133.25,628.968" fill="#55236a" stroke="none" stroke-width="1" stroke-linejoin="round" />
<polygon points="101.75,632.386 133.25,632.386 133.25,645.386 101.75,645.386" fill="#67a843" stroke="none" stroke-width="1" stroke-linejoin="round" />
<polygon points="101.75,648.504 133.25,648.504 133.25,661.1039999999999 101.75,661.1039999999999" fill="#67a843" stroke="none" stroke-width="1" stroke-linejoin="round" />
<polygon points="101.75,664.822 133.25,664.822 133.25,676.622 101.75,676.622" fill="#67a843" stroke="none" stroke-width="1" stroke-linejoin="round" />
<polygon points="101.75,696.808 133.25,696.808 133.25,708.308 101.75,708.308" fill="#67a843" stroke="none" stroke-width="1" stroke-linejoin="round" />
<polygon points="101.75,712.8759999999999 133.25,712.8759999999999 133.25,724.0759999999999 101.75,724.0759999999999" fill="#67a843" stroke="none" stroke-width="1" stroke-linejoin="round" />
<polygon points="101.75,776.3979999999999 133.25,776.3979999999999 133.25,787.8979999999999 101.75,787.8979999999999" fill="#67a843" stroke="none" stroke-width="1" stroke-linejoin="round" />
<polygon points="144.14999999999998,632.386 175.64999999999998,632.386 175.64999999999998,645.386 144.14999999999998,645.386" fill="#67a843" stroke="none" stroke-width="1" stroke-linejoin="round" />
<polygon points="144.14999999999998,648.554 175.64999999999998,648.554 175.64999999999998,661.054 144.14999999999998,661.054" fill="#67a843" stroke="none" stroke-width="1" stroke-linejoin="round" />
<polygon points="144.14999999999998,664.472 175.64999999999998,664.472 175.64999999999998,676.972 144.14999999999998,676.972" fill="#67a843" stroke="none" stroke-width="1" stroke-linejoin="round" />
<polygon points="144.14999999999998,727.894 175.64999999999998,727.894 175.64999999999998,740.894 144.14999999999998,740.894" fill="#67a843" stroke="none" stroke-width="1" stroke-linejoin="round" />
<polygon points="186.54999999999998,622.968 218.04999999999998,620.218 218.04999999999998,625.718" fill="#55236a" stroke="none" stroke-width="1" stroke-linejoin="round" />
<polygon points="186.54999999999998,632.386 218.04999999999998,632.386 218.04999999999998,645.386 186.54999999999998,645.386" fill="#67a843" stroke="none" stroke-width="1" stroke-linejoin="round" />
<polygon points="186.54999999999998,648.554 218.04999999999998,648.554 218.04999999999998,661.054 186.54999999999998,661.054" fill="#67a843" stroke="none" stroke-width="1" stroke-linejoin="round" />
<polygon points="186.54999999999998,680.39 218.04999999999998,680.39 218.04999999999998,692.89 186.54999999999998,692.89" fill="#67a843" stroke="none" stroke-width="1" stroke-linejoin="round" />
<polygon points="228.95,584.6 260.45,584.6 260.45,597.4 228.95,597.4" fill="#dc8c19" stroke="none" stroke-width="1" stroke-linejoin="round" />
<polygon points="228.95,636.986 260.45,635.736 260.45,642.036 228.95,640.786" fill="#67a843" stroke="none" stroke-width="1" stroke-linejoin="round" />
<polygon points="228.95,652.554 260.45,651.554 260.45,658.054 228.95,657.054" fill="#67a843" stroke="none" stroke-width="1" stroke-linejoin="round" />
<polygon points="228.95,680.39 260.45,680.39 260.45,692.89 228.95,692.89" fill="#dc8c19" stroke="none" stroke-width="1" stroke-linejoin="round" />
<polygon points="228.95,700.908 260.45,699.658 260.45,705.458 228.95,704.208" fill="#67a843" stroke="none" stroke-width="1" stroke-linejoin="round" />
<polygon points="271.35,607.05 302.85,601.8 302.85,612.3" fill="#55236a" stroke="none" stroke-width="1" stroke-linejoin="round" />
<polygon points="271.35,622.968 302.85,617.068 302.85,628.8679999999999" fill="#55236a" stroke="none" stroke-width="1" stroke-linejoin="round" />
<polygon points="271.35,635.386 302.85,638.886 271.35,642.386" fill="#67a843" stroke="none" stroke-width="1" stroke-linejoin="round" />
<polygon points="271.35,648.404 302.85,654.804 271.35,661.204" fill="#67a843" stroke="none" stroke-width="1" stroke-linejoin="round" />
<polygon points="271.35,664.322 302.85,670.722 271.35,677.122" fill="#67a843" stroke="none" stroke-width="1" stroke-linejoin="round" />
<polygon points="271.35,734.394 302.85,728.894 302.85,739.894" fill="#55236a" stroke="none" stroke-width="1" stroke-linejoin="round" />
<polygon points="271.35,744.0619999999999 302.85,744.0619999999999 302.85,756.5619999999999 271.35,756.5619999999999" fill="#69a8e1" stroke="none" stroke-width="1" stroke-linejoin="round" />
<polygon points="313.75,622.968 345.25,617.068 345.25,628.8679999999999" fill="#55236a" stroke="none" stroke-width="1" stroke-linejoin="round" />
<polygon points="313.75,635.636 345.25,638.886 313.75,642.136" fill="#67a843" stroke="none" stroke-width="1" stroke-linejoin="round" />
<polygon points="313.75,650.804 345.25,654.804 313.75,658.804" fill="#67a843" stroke="none" stroke-width="1" stroke-linejoin="round" />
<polygon points="313.75,670.722 345.25,664.322 345.25,677.122" fill="#55236a" stroke="none" stroke-width="1" stroke-linejoin="round" />
<polygon points="313.75,696.808 345.25,696.808 345.25,708.308 313.75,708.308" fill="#69a8e1" stroke="none" stroke-width="1" stroke-linejoin="round" />
<polygon points="313.75,715.6259999999999 345.25,712.2259999999999 345.25,724.7259999999999 313.75,721.3259999999999" fill="#55236a" stroke="none" stroke-width="1" stroke-linejoin="round" />
<polygon points="313.75,731.394 345.25,728.144 345.25,740.644 313.75,737.394" fill="#55236a" stroke="none" stroke-width="1" stroke-linejoin="round" />
<polygon points="313.75,744.0619999999999 345.25,744.0619999999999 345.25,756.5619999999999 313.75,756.5619999999999" fill="#69a8e1" stroke="none" stroke-width="1" stroke-linejoin="round" />
<polygon points="313.75,763.63 345.25,759.98 345.25,772.48 313.75,768.83" fill="#55236a" stroke="none" stroke-width="1" stroke-linejoin="round" />
<polygon points="356.15,633.1859999999999 387.65,632.286 387.65,645.486 356.15,644.586" fill="#67a843" stroke="none" stroke-width="1" stroke-linejoin="round" />
<polygon points="356.15,648.404 387.65,648.404 387.65,661.204 356.15,661.204" fill="#67a843" stroke="none" stroke-width="1" stroke-linejoin="round" />
<polygon points="356.15,680.39 387.65,680.39 387.65,692.89 356.15,692.89" fill="#67a843" stroke="none" stroke-width="1" stroke-linejoin="round" />
<polygon points="356.15,743.9119999999999 387.65,743.9119999999999 387.65,756.7119999999999 356.15,756.7119999999999" fill="#67a843" stroke="none" stroke-width="1" stroke-linejoin="round" />
<polygon points="398.54999999999995,584.95 430.04999999999995,586.35 430.04999999999995,595.65 398.54999999999995,597.05" fill="#dc8c19" stroke="none" stroke-width="1" stroke-linejoin="round" />
<polygon points="398.54999999999995,607.05 430.04999999999995,601.55 430.04999999999995,612.55" fill="#69a8e1" stroke="none" stroke-width="1" stroke-linejoin="round" />
<polygon points="398.54999999999995,680.39 430.04999999999995,680.39 430.04999999999995,692.89 398.54999999999995,692.89" fill="#dc8c19" stroke="none" stroke-width="1" stroke-linejoin="round" />
<rect x="0" y="0" width="1.5" height="797" fill="#000"/>
<rect x="518.3" y="0" width="1.7" height="797" fill="#000"/>
<rect x="0" y="795.2" width="520" height="1.8" fill="#000"/>
<rect x="0" y="0" width="212" height="1.4" fill="#000"/>
<rect x="212" y="0" width="180" height="1.4" fill="#2a2a2a"/>
<rect x="392" y="0" width="35" height="2.2" fill="#111"/>
<rect x="427" y="0" width="93" height="1" fill="#9a9a9a"/>
<rect x="427" y="1" width="93" height="1.3" fill="#000"/>
</svg>
</body></html>
